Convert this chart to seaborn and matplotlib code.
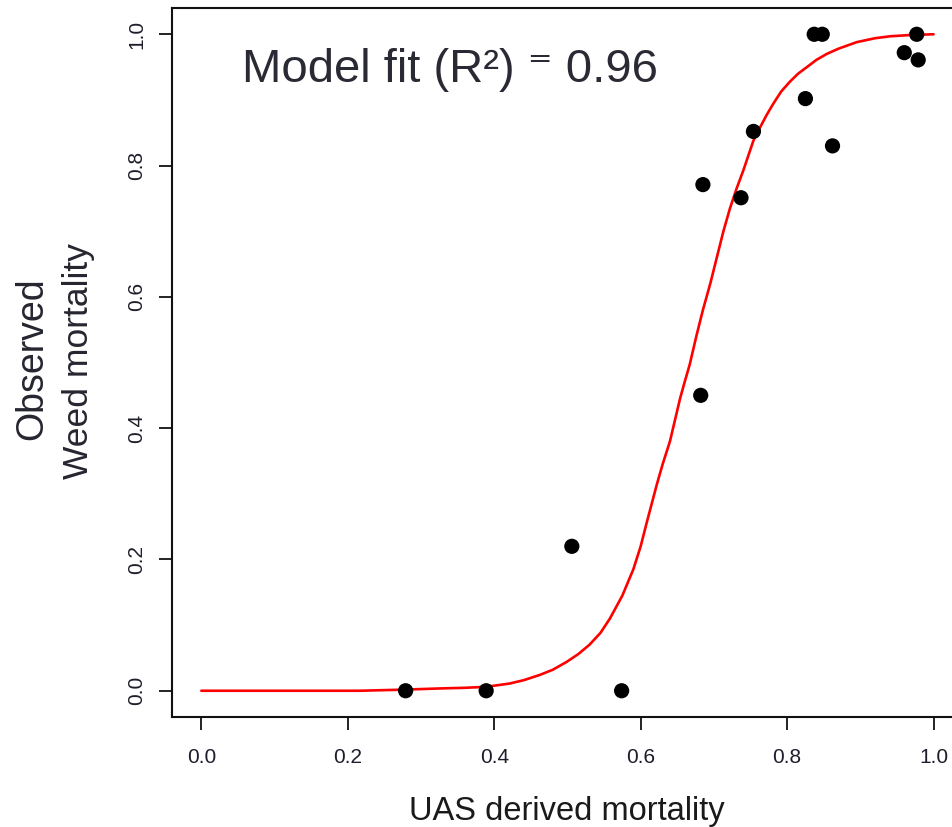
import matplotlib
matplotlib.use("Agg")
import matplotlib.pyplot as plt
import seaborn as sns
import pandas as pd

# observed points
uas_mortality = [0.279, 0.389, 0.506, 0.574, 0.682, 0.685, 0.737, 0.754,
                 0.825, 0.837, 0.848, 0.862, 0.960, 0.977, 0.979]
weed_mortality = [0.0, 0.0, 0.220, 0.0, 0.450, 0.771, 0.751, 0.852,
                  0.902, 1.0, 1.0, 0.830, 0.972, 1.0, 0.961]

# fitted curve
fit_x = [0.0, 0.216, 0.27, 0.326, 0.36, 0.389, 0.421, 0.44, 0.462, 0.48,
         0.499, 0.515, 0.530, 0.545, 0.558, 0.575, 0.590, 0.600, 0.608, 0.622,
         0.630, 0.640, 0.647, 0.654, 0.660, 0.667, 0.676, 0.685, 0.695, 0.704,
         0.713, 0.722, 0.731, 0.740, 0.747, 0.754, 0.763, 0.772, 0.781, 0.792,
         0.804, 0.815, 0.827, 0.840, 0.854, 0.870, 0.895, 0.920, 0.941, 0.970,
         1.0]
fit_y = [0.0, 0.0, 0.0015, 0.0035, 0.0045, 0.006, 0.011, 0.016, 0.024, 0.032,
         0.044, 0.056, 0.070, 0.088, 0.110, 0.145, 0.185, 0.220, 0.255, 0.314,
         0.345, 0.380, 0.413, 0.446, 0.470, 0.497, 0.540, 0.580, 0.620, 0.660,
         0.700, 0.735, 0.765, 0.792, 0.815, 0.838, 0.858, 0.877, 0.894, 0.913,
         0.928, 0.940, 0.950, 0.961, 0.970, 0.978, 0.988, 0.994, 0.997, 0.999,
         1.0]

ticks = [0.0, 0.2, 0.4, 0.6, 0.8, 1.0]
tick_labels = ["0.0", "0.2", "0.4", "0.6", "0.8", "1.0"]

sns.set_theme(style="ticks")
plt.rcParams['font.family'] = ['Liberation Sans', 'DejaVu Sans']

points = pd.DataFrame({"uas": uas_mortality, "obs": weed_mortality})
curve = pd.DataFrame({"x": fit_x, "y": fit_y})

fig = plt.figure(figsize=(9.52, 8.27), dpi=100)
ax = fig.add_axes([0.1807, 0.1330, 0.8307, 0.8573])

sns.lineplot(data=curve, x="x", y="y", estimator=None, color="#ff0000",
             linewidth=1.9, ax=ax, zorder=2)
sns.scatterplot(data=points, x="uas", y="obs", color="black", s=120,
                edgecolor="none", ax=ax, zorder=3)

ax.set_xlim(-0.04, 1.04)
ax.set_ylim(-0.04, 1.04)
ax.set_xticks(ticks)
ax.set_xticklabels(tick_labels)
ax.set_yticks(ticks)
ax.set_yticklabels(tick_labels, rotation=90, va="center")

for side in ["top", "right", "bottom", "left"]:
    ax.spines[side].set_visible(True)
    ax.spines[side].set_linewidth(1.5)
    ax.spines[side].set_color("#111111")

ax.tick_params(axis="both", direction="out", length=9.5, width=1.4,
               color="#222222", labelsize=15, labelcolor="#1e1e2a")
ax.tick_params(axis="x", pad=13)
ax.tick_params(axis="y", pad=9)

ax.set_xlabel("UAS derived mortality", fontsize=23.5, color="#1a1a1a",
              va="baseline")
ax.xaxis.set_label_coords(0.4989, -0.1453)

ax.set_ylabel("Weed mortality", fontsize=25.5, color="#262630",
              rotation=90, rotation_mode="anchor", ha="center", va="baseline")
ax.yaxis.set_label_coords((88.3 - 172) / 790.8, (717 - 361) / 709)
ax.text((42 - 172) / 790.8, (717 - 359) / 709, "Observed",
        transform=ax.transAxes, fontsize=27, color="#262630",
        rotation=90, rotation_mode="anchor", ha="center", va="baseline")

ax.text((241.7 - 172) / 790.8, (717 - 81.7) / 709,
        "Model fit (R\u00b2) \u207c 0.96", transform=ax.transAxes,
        fontsize=34, color="#2a2a35", ha="left", va="baseline")

fig.savefig("out.png", dpi=100)
